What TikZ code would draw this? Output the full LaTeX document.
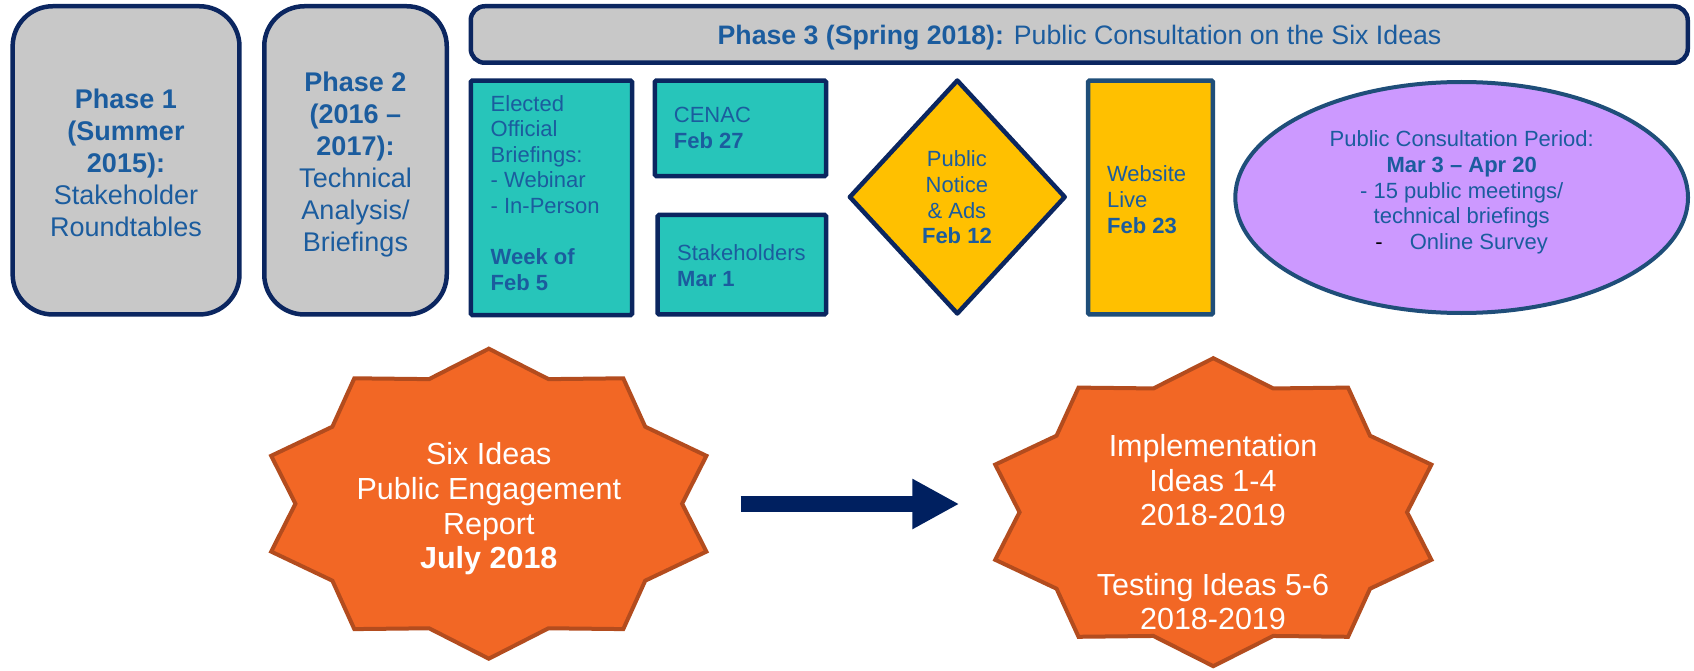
\documentclass[tikz,border=0pt]{standalone}
\usepackage{fontspec}
\setmainfont{Liberation Sans}
\usetikzlibrary{shapes.geometric,arrows.meta}

\definecolor{navy}{HTML}{0B2660}
\definecolor{steel}{HTML}{1F4E79}
\definecolor{txtblue}{HTML}{1B5C9E}
\definecolor{boxgray}{HTML}{C8C8C8}
\definecolor{tealfill}{HTML}{27C5BA}
\definecolor{goldfill}{HTML}{FFC000}
\definecolor{lilac}{HTML}{CC99FF}
\definecolor{burst}{HTML}{F26725}
\definecolor{burstedge}{HTML}{B34C1E}
\definecolor{arrowblue}{HTML}{002060}

% ten-pointed burst: style, centre x, centre y, radius x, radius y
\newcommand\tenpointburst[5]{%
  \draw[#1] plot[samples at={0,1,...,19}]
    ({#2+(1-0.155*mod(\x,2))*#4*cos(90+18*\x)},
     {#3-(1-0.155*mod(\x,2))*#5*sin(90+18*\x)}) -- cycle;}

\tikzset{
  phasebox/.style={draw=navy, line width=4.5pt, fill=boxgray, inner sep=0pt},
  eventbox/.style={draw=navy, line width=4.5pt, fill=tealfill, inner sep=0pt,
    rounded corners=1.5pt},
  bigtxt/.style={text=txtblue, font=\fontsize{27}{32}\selectfont, align=center,
    inner sep=0pt, anchor=north},
  smalltxt/.style={text=txtblue, font=\fontsize{22}{25.6}\selectfont, inner sep=0pt},
  bursttxt/.style={text=white, font=\fontsize{30.5}{34.7}\selectfont, align=center,
    inner sep=0pt, anchor=north},
  burstshape/.style={draw=burstedge, fill=burst, line width=4pt, line join=miter},
}

\begin{document}
\begin{tikzpicture}[x=1pt,y=-1pt]
\useasboundingbox (0,0) rectangle (1694,671);

% ---- Phase 1 and Phase 2 ----
\node[phasebox, rounded corners=40pt, minimum width=226.8pt, minimum height=308.2pt]
  (ph1) at (126.05,160.35) {};
\node[bigtxt] (ph1txt) at (126,88.3)
  {\textbf{Phase 1}\\\textbf{(Summer}\\\textbf{2015):}\\Stakeholder\\Roundtables};

\node[phasebox, rounded corners=40pt, minimum width=182.5pt, minimum height=308.2pt]
  (ph2) at (355.5,160.35) {};
\node[bigtxt] (ph2txt) at (355.5,71.7)
  {\textbf{Phase 2}\\\textbf{(2016 –}\\\textbf{2017):}\\Technical\\Analysis/\\Briefings};

% ---- Phase 3 header ----
\node[phasebox, rounded corners=14pt, minimum width=1217pt, minimum height=56.5pt]
  (ph3) at (1079.25,34.5) {};
\node[text=txtblue, font=\fontsize{26.7}{32}\selectfont, inner sep=0pt, anchor=base]
  (ph3txt) at (1079.5,45)
  {\textbf{Phase 3 (Spring 2018):} Public Consultation on the Six Ideas};

% ---- Phase 3 events ----
\node[eventbox, minimum width=161.3pt, minimum height=234.5pt] (eob) at (551.4,197.8) {};
\node[smalltxt, anchor=north west, align=left] (eobtxt) at (490.5,95)
  {Elected\\Official\\Briefings:\\- Webinar\\- In-Person\\[25.6pt]\textbf{Week of}\\\textbf{Feb 5}};

\node[eventbox, minimum width=171.2pt, minimum height=95.5pt] (cenac) at (740.45,128.3) {};
\node[smalltxt, anchor=north west, align=left] (cenactxt) at (673.7,107.3)
  {CENAC\\\textbf{Feb 27}};

\node[eventbox, minimum width=168.5pt, minimum height=99.5pt] (stake) at (741.8,264.7) {};
\node[smalltxt, anchor=north west, align=left] (staketxt) at (677,244.3)
  {Stakeholders\\\textbf{Mar 1}};

\node[diamond, draw=navy, fill=goldfill, line width=4.5pt, line join=round, inner sep=0pt,
  minimum width=216.7pt, minimum height=234.8pt] (notice) at (957.3,197) {};
\node[smalltxt, anchor=north, align=center] (noticetxt) at (956.9,150.7)
  {Public\\Notice\\\& Ads\\\textbf{Feb 12}};

\node[draw=steel, fill=goldfill, line width=4.5pt, inner sep=0pt, rounded corners=1.5pt,
  minimum width=124.9pt, minimum height=233.9pt] (web) at (1150.5,197.5) {};
\node[smalltxt, anchor=north west, align=left] (webtxt) at (1106.9,165.7)
  {Website\\Live\\\textbf{Feb 23}};

\node[ellipse, draw=steel, fill=lilac, line width=4pt, inner sep=0pt,
  minimum width=452.7pt, minimum height=231pt] (period) at (1461.65,197.5) {};
\node[smalltxt, anchor=north, align=center] (periodtxt) at (1461.7,130.7)
  {Public Consultation Period:\\\textbf{Mar 3 – Apr 20}\\- 15 public meetings/\\technical briefings\\{\color{black}-}\hspace{27pt}Online Survey};

% ---- outcomes ----
\tenpointburst{burstshape}{488.8}{503.7}{228.8}{155}
\node[bursttxt] (report) at (488.8,442.3)
  {Six Ideas\\Public Engagement\\Report\\\textbf{July 2018}};

\tenpointburst{burstshape}{1213.3}{512.2}{229.3}{154}
\node[bursttxt] (implement) at (1213,434)
  {Implementation\\Ideas 1-4\\2018-2019\\[34.7pt]Testing Ideas 5-6\\2018-2019};

\coordinate (arrowtail) at (740.7,504);
\coordinate (arrowtip) at (959.3,504);
\draw[arrowblue, line width=16.3pt, -{Triangle[length=47pt,width=47pt]}]
  (arrowtail) -- (arrowtip);
\end{tikzpicture}
\end{document}
